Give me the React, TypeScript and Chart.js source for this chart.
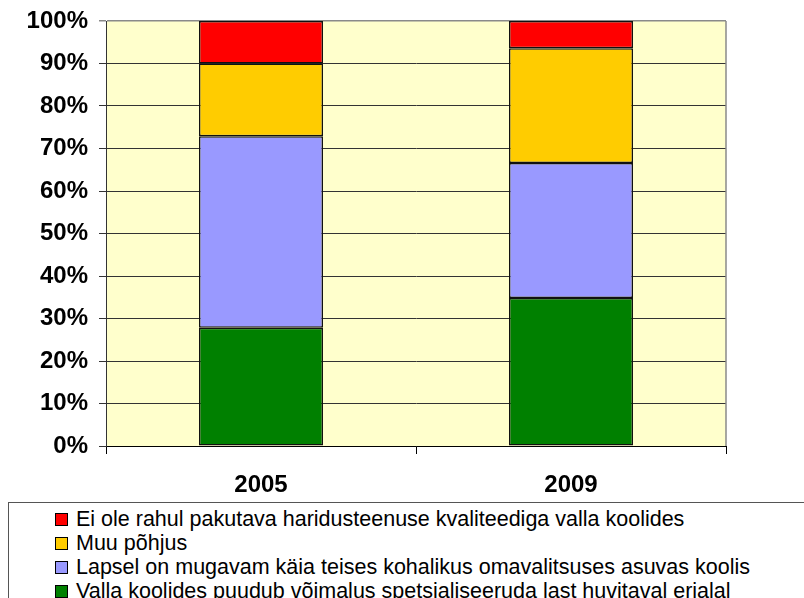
import React, { useEffect, useRef } from "react";
import { Chart, registerables } from "chart.js";

Chart.register(...registerables);

const categories = ["2005", "2009"];
const seriesNames = [
  "Valla koolides puudub võimalus spetsialiseeruda last huvitaval erialal",
  "Lapsel on mugavam käia teises kohalikus omavalitsuses asuvas koolis",
  "Muu põhjus",
  "Ei ole rahul pakutava haridusteenuse kvaliteediga valla koolides",
];
const vallaKoolides = [27.8, 34.8];
const lapselMugavam = [45.1, 31.8];
const muuPohjus = [17.1, 27.0];
const eiOleRahul = [10.0, 6.4];
const seriesColors = ["#008000", "#9999FF", "#FFCC00", "#FF0000"];
const yMin = 0;
const yMax = 100;
const yStep = 10;

const FONT = '"Liberation Sans", Arial, sans-serif';

const plotFrame = {
  id: "plotFrame",
  beforeDraw(chart: any) {
    const { ctx, chartArea } = chart;
    ctx.save();
    ctx.fillStyle = "#FFFFCC";
    ctx.fillRect(chartArea.left, chartArea.top, chartArea.right - chartArea.left, chartArea.bottom - chartArea.top);
    ctx.restore();
  },
  afterDraw(chart: any) {
    const { ctx, chartArea } = chart;
    ctx.save();
    ctx.strokeStyle = "#8a8a8a";
    ctx.lineWidth = 1.5;
    ctx.beginPath();
    ctx.moveTo(chartArea.right, chartArea.top);
    ctx.lineTo(chartArea.right, chartArea.bottom);
    ctx.stroke();
    ctx.restore();
  },
};

export default function App() {
  const canvasRef = useRef<HTMLCanvasElement | null>(null);

  useEffect(() => {
    document.body.style.margin = "0";
    const canvas = canvasRef.current;
    if (!canvas) return;
    const allSeries = [vallaKoolides, lapselMugavam, muuPohjus, eiOleRahul];
    const chart = new Chart(canvas, {
      type: "bar",
      data: {
        labels: categories,
        datasets: allSeries.map((d, i) => ({
          label: seriesNames[i],
          data: d,
          backgroundColor: seriesColors[i],
          borderColor: "#111111",
          borderWidth: 1.5,
          borderSkipped: false,
          barPercentage: 0.4,
          categoryPercentage: 1,
        })),
      },
      options: {
        responsive: false,
        animation: false,
        events: [],
        layout: { padding: { left: 0, top: 21, right: 78, bottom: 92 } },
        plugins: {
          legend: { display: false },
          title: { display: false },
          tooltip: { enabled: false },
        },
        scales: {
          x: {
            stacked: true,
            offset: true,
            grid: {
              offset: true,
              drawOnChartArea: false,
              drawTicks: true,
              tickLength: 8,
              color: "#000000",
            },
            border: { display: true, color: "#000000", width: 1 },
            ticks: {
              color: "#000000",
              font: { family: FONT, size: 24, weight: "bold" },
              padding: 17,
            },
            afterFit: (s: any) => {
              s.height = 60;
              s.paddingLeft = 0;
              s.paddingRight = 0;
            },
          },
          y: {
            stacked: true,
            min: yMin,
            max: yMax,
            ticks: {
              stepSize: yStep,
              color: "#000000",
              font: { family: FONT, size: 24, weight: "bold" },
              padding: 11,
              callback: (v: any) => v + "%",
            },
            grid: {
              color: (c: any) => (c.tick && c.tick.value === yMax ? "#8a8a8a" : "#333333"),
              lineWidth: (c: any) => (c.tick && c.tick.value === yMax ? 1.5 : 1),
              tickLength: 7,
              drawTicks: true,
            },
            border: { display: true, color: "#333333", width: 1 },
            afterFit: (s: any) => {
              s.width = 106;
              s.paddingTop = 0;
              s.paddingBottom = 0;
            },
          },
        },
      },
      plugins: [plotFrame],
    });
    return () => chart.destroy();
  }, []);

  const legendOrder = [3, 2, 1, 0];

  return (
    <div style={{ position: "relative", width: 804, height: 598, overflow: "hidden", background: "#ffffff" }}>
      <canvas ref={canvasRef} width={804} height={598} style={{ position: "absolute", left: 0, top: 0, width: 804, height: 598 }} />
      <div
        style={{
          position: "absolute",
          left: 8,
          top: 502,
          width: 900,
          height: 200,
          border: "1px solid #555555",
          boxSizing: "border-box",
          background: "#ffffff",
        }}
      >
        {legendOrder.map((i, k) => (
          <div
            key={i}
            style={{
              position: "absolute",
              left: 46,
              top: 4 + k * 24,
              height: 24,
              display: "flex",
              alignItems: "center",
              whiteSpace: "nowrap",
              fontFamily: FONT,
              fontSize: 21.5,
              color: "#000000",
            }}
          >
            <span
              style={{
                display: "inline-block",
                width: 13,
                height: 13,
                boxSizing: "border-box",
                background: seriesColors[i],
                border: "1px solid #000000",
                marginRight: 8,
              }}
            />
            <span>{seriesNames[i]}</span>
          </div>
        ))}
      </div>
    </div>
  );
}
